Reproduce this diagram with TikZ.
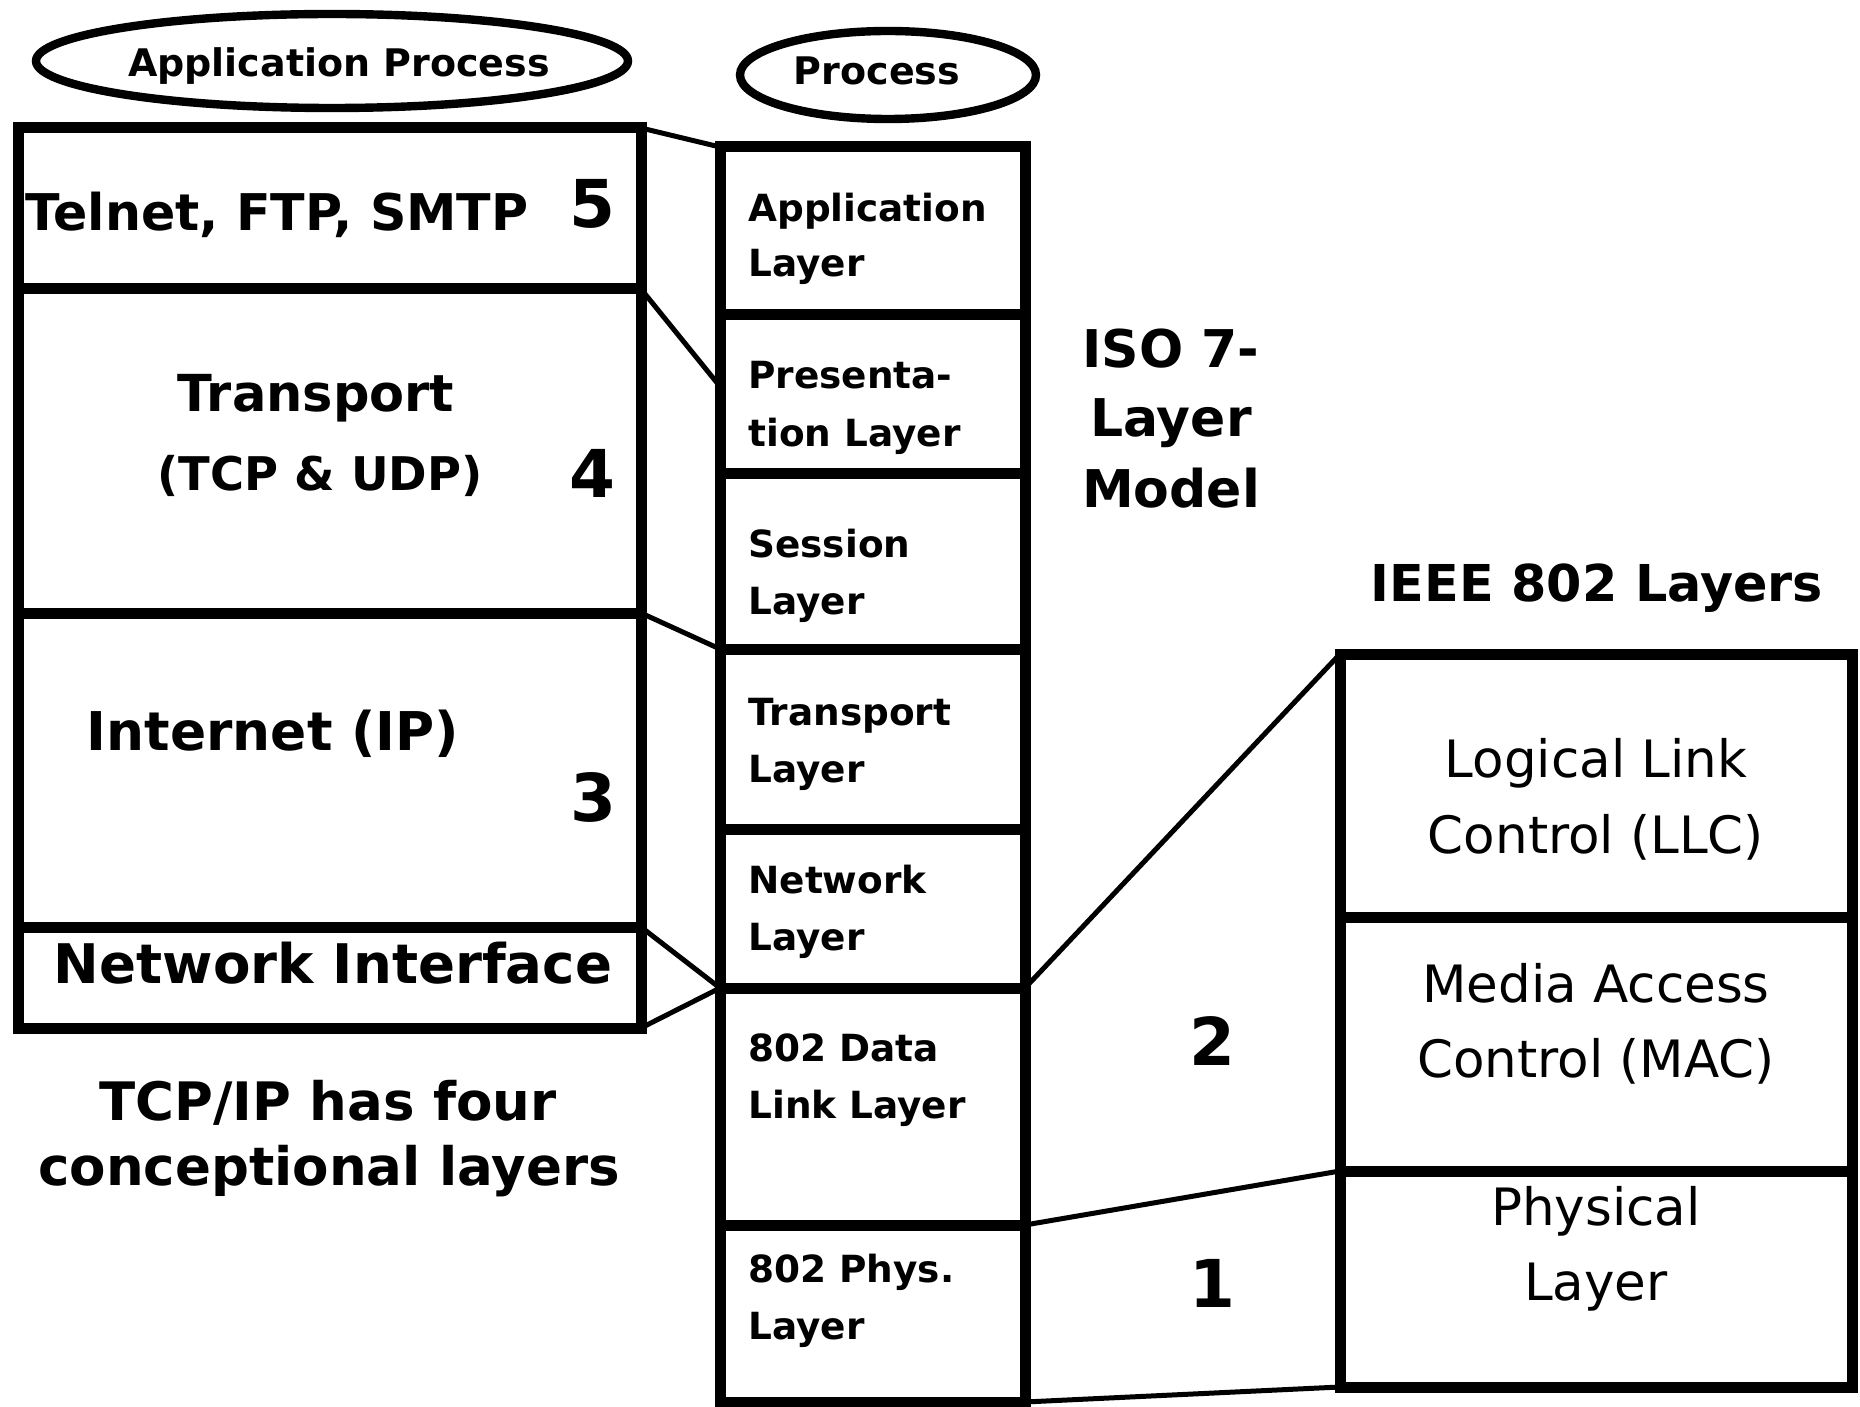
\documentclass[tikz,border=0pt]{standalone}
\usepackage{fontspec}
\setmainfont{DejaVu Sans}
\usetikzlibrary{shapes.geometric}
\newcommand\myfs[1]{\fontsize{#1}{#1}\selectfont}
\tikzset{
  box/.style={draw, line width=5.5pt, inner sep=0pt, outer sep=0pt, rectangle},
  ell/.style={draw, ellipse, line width=4.2pt, inner sep=0pt, outer sep=0pt},
  conn/.style={line width=2.5pt},
  lbl/.style={inner sep=0pt, outer sep=0pt, anchor=base},
  bl/.style={lbl, font=\bfseries\myfs{#1}},
  ml/.style={inner sep=0pt, anchor=base west, font=\bfseries\myfs{18.7}},
  rl/.style={lbl, font=\myfs{25.75}},
  num/.style={inner sep=0pt, anchor=center, font=\bfseries\myfs{33}}
}
\begin{document}
\begin{tikzpicture}[x=0.5pt,y=-0.5pt]
\useasboundingbox (0,0) rectangle (1860,1407);
\fill[white] (0,0) rectangle (1860,1407);

% ellipses
\node[ell, minimum width=296pt, minimum height=47pt] (ap) at (332,61) {};
\node[ell, minimum width=148pt, minimum height=44pt] (pr) at (888,75) {};
\node[bl=19] (tap) at (339,77) {Application Process};
\node[bl=19] (tpr) at (877,85) {Process};

% left column (TCP/IP)
\node[box, minimum width=311.5pt, minimum height=80.5pt] (tel) at (329.5,208.5) {};
\node[box, minimum width=311.5pt, minimum height=162pt] (trn) at (329.5,451) {};
\node[box, minimum width=311.5pt, minimum height=157pt] (inet) at (329.5,770) {};
\node[box, minimum width=311.5pt, minimum height=50.5pt] (ni) at (329.5,977.5) {};

% middle column (ISO)
\node[box, minimum width=152.5pt, minimum height=84pt] (app) at (872.5,231) {};
\node[box, minimum width=152.5pt, minimum height=79.5pt] (pres) at (872.5,394.5) {};
\node[box, minimum width=152.5pt, minimum height=87.5pt] (sess) at (872.5,561.5) {};
\node[box, minimum width=152.5pt, minimum height=90pt] (tl) at (872.5,739) {};
\node[box, minimum width=152.5pt, minimum height=79.5pt] (nl) at (872.5,908.5) {};
\node[box, minimum width=152.5pt, minimum height=118.5pt] (dl) at (872.5,1106.5) {};
\node[box, minimum width=152.5pt, minimum height=88.5pt] (pl) at (872.5,1313.5) {};

% right column (IEEE 802)
\node[box, minimum width=256pt, minimum height=131.5pt] (llc) at (1596,785.5) {};
\node[box, minimum width=256pt, minimum height=127pt] (mac) at (1596,1044) {};
\node[box, minimum width=256pt, minimum height=108pt] (phy) at (1596,1279) {};

% connectors
\draw[conn] (tel.north east) -- (app.north west);
\draw[conn] (trn.north east) -- ([yshift=4pt]pres.west);
\draw[conn] (inet.north east) -- (tl.north west);
\draw[conn] (ni.north east) -- (dl.north west);
\draw[conn] (ni.south east) -- (dl.north west);
\draw[conn] (dl.north east) -- (llc.north west);
\draw[conn] (pl.north east) -- (phy.north west);
\draw[conn] (pl.south east) -- (phy.south west);

% left texts
\node[bl=25.3] (ttel) at (277,231) {Telnet, FTP, SMTP};
\node[num] (n5) at (592,204) {5};
\node[bl=25.5] (ttrn1) at (316,412) {Transport};
\node[bl=23.2] (ttrn2) at (320,490) {(TCP \& UDP)};
\node[num] (n4) at (592,473) {4};
\node[bl=26.7] (tinet) at (273,750) {Internet (IP)};
\node[num] (n3) at (593,797) {3};
\node[bl=27.3] (tni) at (333,983) {Network Interface};
\node[bl=26.5] (tcap1) at (328,1120) {TCP/IP has four};
\node[bl=26.5] (tcap2) at (329,1185) {conceptional layers};

% middle texts
\node[ml] (m1a) at (748,222) {Application};
\node[ml] (m1b) at (748,277) {Layer};
\node[ml] (m2a) at (748,389) {Presenta-};
\node[ml] (m2b) at (748,446) {tion Layer};
\node[ml] (m3a) at (748,557) {Session};
\node[ml] (m3b) at (748,614) {Layer};
\node[ml] (m4a) at (748,725) {Transport};
\node[ml] (m4b) at (748,782) {Layer};
\node[ml] (m5a) at (748,893) {Network};
\node[ml] (m5b) at (748,950) {Layer};
\node[ml] (m6a) at (748,1061) {802 Data};
\node[ml] (m6b) at (748,1118) {Link Layer};
\node[ml] (m7a) at (748,1282) {802 Phys.};
\node[ml] (m7b) at (748,1339) {Layer};

% ISO title
\node[bl=26] (iso1) at (1171,368) {ISO 7-};
\node[bl=26] (iso2) at (1171,437) {Layer};
\node[bl=26] (iso3) at (1171,508) {Model};

% IEEE title and right texts
\node[bl=25.4] (ieee) at (1597,601) {IEEE 802 Layers};
\node[rl] (r1a) at (1596,777) {Logical Link};
\node[rl] (r1b) at (1596,853) {Control (LLC)};
\node[rl] (r2a) at (1596,1002) {Media Access};
\node[rl] (r2b) at (1596,1077) {Control (MAC)};
\node[rl] (r3a) at (1596,1225) {Physical};
\node[rl] (r3b) at (1596,1300) {Layer};
\node[num] (n2) at (1212,1041) {2};
\node[num] (n1) at (1212,1283) {1};
\end{tikzpicture}
\end{document}
